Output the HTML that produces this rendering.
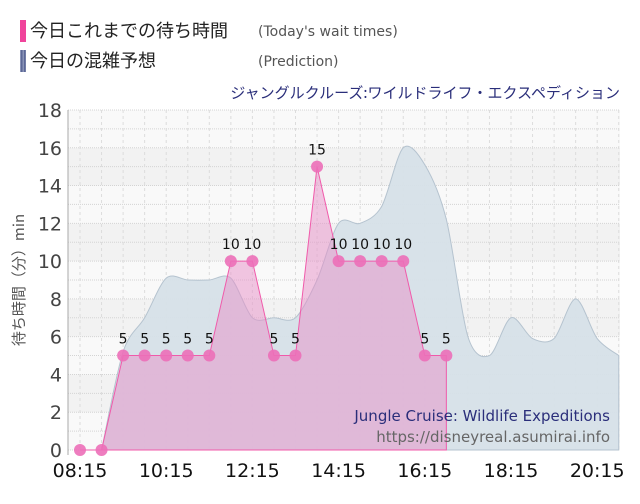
<!DOCTYPE html>
<html><head><meta charset="utf-8"><style>
body{margin:0;background:#fff;width:640px;height:500px;overflow:hidden;font-family:"DejaVu Sans","Noto Sans CJK JP",sans-serif}
</style></head><body>
<svg id="c" width="640" height="500" xmlns="http://www.w3.org/2000/svg">
<defs>
<pattern id="stripe" width="3" height="3" patternUnits="userSpaceOnUse"><rect width="3" height="3" fill="#8a94b8"/><rect width="1.5" height="3" fill="#5c6896"/></pattern>
</defs>
<g>
<rect x="20" y="20" width="6" height="22" fill="#f0449b"/>
<text x="30" y="37" font-size="18" fill="#222" font-family="Noto Sans CJK JP, sans-serif">今日これまでの待ち時間</text>
<text x="258" y="36" font-size="14" fill="#555">(Today's wait times)</text>
<rect x="20" y="50" width="6" height="22" fill="url(#stripe)"/>
<text x="30" y="67" font-size="18" fill="#222" font-family="Noto Sans CJK JP, sans-serif">今日の混雑予想</text>
<text x="258" y="66" font-size="14" fill="#555">(Prediction)</text>
</g>
<text x="620" y="98" font-size="15" fill="#2a2e7a" text-anchor="end" font-family="Noto Sans CJK JP, sans-serif">ジャングルクルーズ:ワイルドライフ・エクスペディション</text>
<text transform="translate(24,280) rotate(-90)" font-size="15" fill="#555" text-anchor="middle" font-family="Noto Sans CJK JP, sans-serif">待ち時間（分）min</text>
<g id="grid"></g><g id="pred"></g><g id="today"></g><g id="axes"></g>
<text x="610" y="421" font-size="15" fill="#2a2e7a" text-anchor="end">Jungle Cruise: Wildlife Expeditions</text>
<text x="610" y="442" font-size="15" fill="#666" text-anchor="end">https://disneyreal.asumirai.info</text>
</svg>
<script>
const todayTimes=[0,1,2,3,4,5,6,7,8,9,10,11,12,13,14,15,16,17];
const todayValues=[0,0,5,5,5,5,5,10,10,5,5,15,10,10,10,10,5,5];
const predTimes=[1,2,3,4,5,6,7,8,9,10,11,12,13,14,15,16,17,18,19,20,21,22,23,24,25];
const predValues=[0,5.2,7,9.1,9,9,9.1,7,7,7,9,12,12,12.9,16,15.1,12.2,6,5,7,5.9,5.9,8,5.9,5];
const yTicks=[0,2,4,6,8,10,12,14,16,18];
const xTickLabels=["08:15","10:15","12:15","14:15","16:15","18:15","20:15"];
const xTickSlots=[0,4,8,12,16,20,24];
const NS="http://www.w3.org/2000/svg";
const X0=80,XS=21.55,Y0=450,YS=18.89,PL=68,PR=620,PT=110;
const x=t=>X0+t*XS, y=v=>Y0-v*YS;
function mk(tag,attrs,parent){const e=document.createElementNS(NS,tag);for(const k in attrs)e.setAttribute(k,attrs[k]);parent.appendChild(e);return e;}
const grid=document.getElementById('grid');
for(let i=0;i<yTicks.length-1;i++){
 const r=mk('rect',{x:PL,y:y(yTicks[i+1]),width:PR-PL,height:y(yTicks[i])-y(yTicks[i+1]),fill:i%2?'#f2f2f2':'#f9f9f9'},grid);
 
 
}
for(let v=0;v<=18;v++){
 const l=mk('line',{x1:PL,x2:PR,y1:y(v),y2:y(v),stroke:'#d4d4d4','stroke-dasharray':'1,1'},grid);
 
 
}
for(let t=0;t<=25;t++){
 const l=mk('line',{x1:x(t),x2:x(t),y1:PT,y2:Y0,stroke:'#dcdcdc','stroke-dasharray':'3,3'},grid);
 
 
}
const pts=predTimes.map((t,i)=>[x(t),y(predValues[i])]);
let d=`M${pts[0][0]},${Y0} L${pts[0][0]},${pts[0][1]}`;
for(let i=0;i<pts.length-1;i++){
 const p0=pts[Math.max(0,i-1)],p1=pts[i],p2=pts[i+1],p3=pts[Math.min(pts.length-1,i+2)];
 const k=0.15;
 let c1y=p1[1]+(p2[1]-p0[1])*k,c2y=p2[1]-(p3[1]-p1[1])*k;
 c1y=Math.min(Y0,c1y);c2y=Math.min(Y0,c2y);
 d+=` C${p1[0]+(p2[0]-p0[0])*k},${c1y} ${p2[0]-(p3[0]-p1[0])*k},${c2y} ${p2[0]},${p2[1]}`;
}
const pg=document.getElementById('pred');
const pa=mk('path',{d:d+` L${pts[pts.length-1][0]},${Y0} Z`,fill:'#d6e0e8',stroke:'#b5c3cf','stroke-width':1,'fill-opacity':0.95},pg);


const tg=document.getElementById('today');
const tp=todayTimes.map((t,i)=>[x(t),y(todayValues[i])]);
let td=`M${tp[0][0]},${Y0} `+tp.map(p=>`L${p[0]},${p[1]}`).join(' ')+` L${tp[tp.length-1][0]},${Y0} Z`;
const ta=mk('path',{d:td,fill:'#e890c8','fill-opacity':0.5,stroke:'#f05aaa','stroke-width':1},tg);


todayTimes.forEach((t,i)=>{
 const c=mk('circle',{cx:x(t),cy:y(todayValues[i]),r:6,fill:'#ec6fb8','fill-opacity':0.9},tg);
 
 
 if(todayValues[i]>0){
  const tx=mk('text',{x:x(t),y:y(todayValues[i])-12,'font-size':14,'text-anchor':'middle',fill:'#111'},tg);
  tx.textContent=todayValues[i];
  
  
 }
});
const ax=document.getElementById('axes');
const la=mk('line',{x1:PL,x2:PL,y1:PT,y2:Y0+5,stroke:'#aaa'},ax);


yTicks.forEach(v=>{
 const tx=mk('text',{x:62,y:y(v)+7,'font-size':19,'text-anchor':'end',fill:'#444'},ax);
 tx.textContent=v;
 
 
});
xTickLabels.forEach((s,i)=>{
 const tx=mk('text',{x:x(xTickSlots[i]),y:477,'font-size':19,'text-anchor':'middle',fill:'#111'},ax);
 tx.textContent=s;
 
 
});
</script>
</body></html>
